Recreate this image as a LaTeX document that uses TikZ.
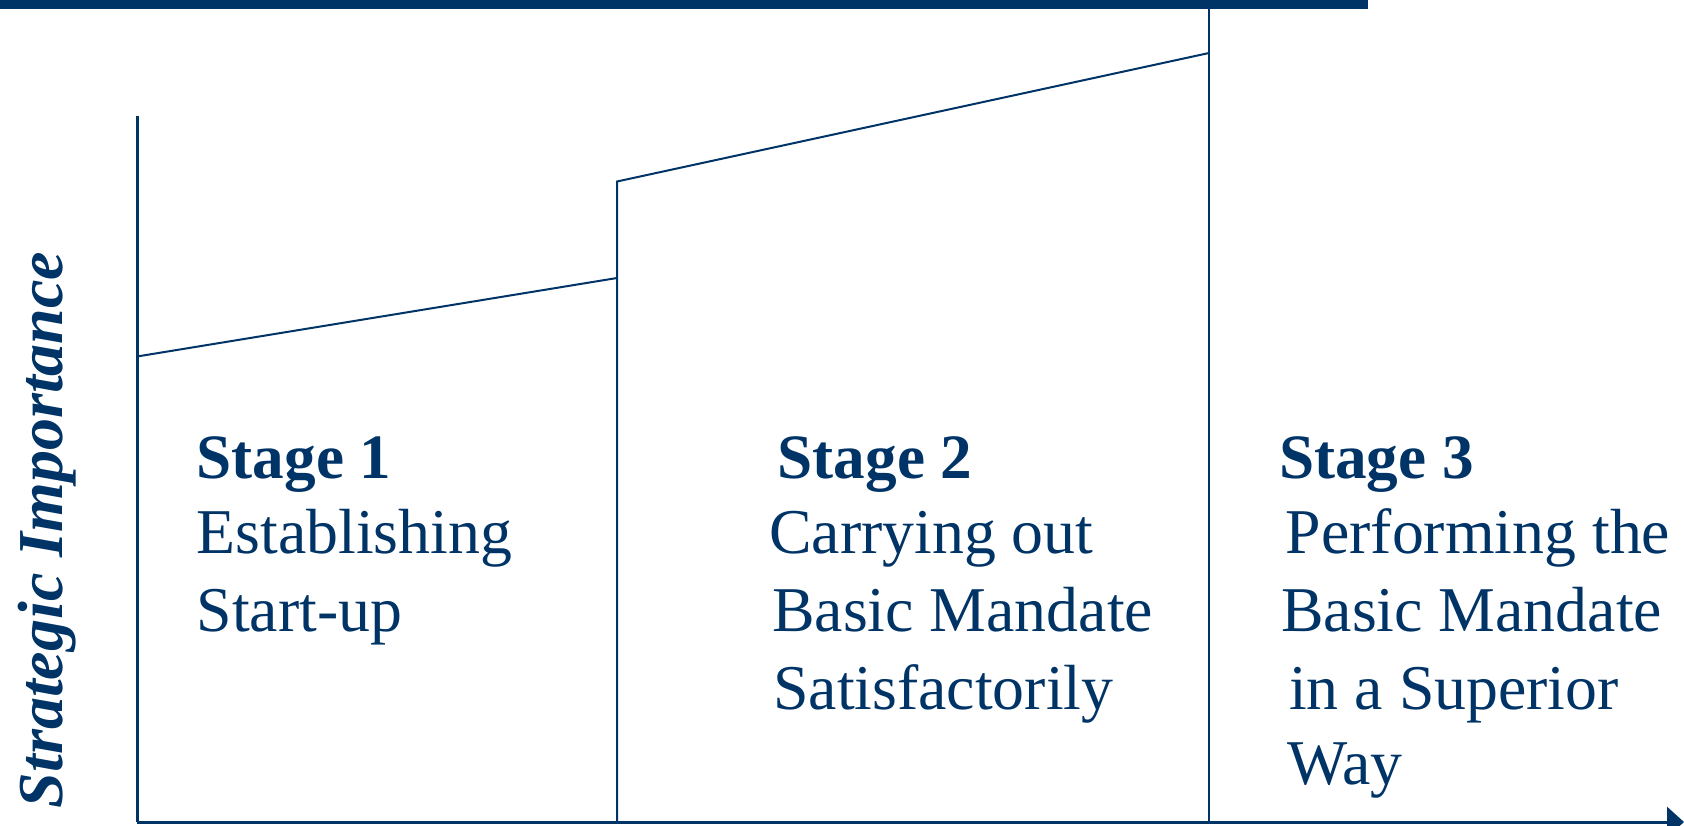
\documentclass[tikz,border=0pt]{standalone}
\usepackage{fontspec}
\setmainfont{Liberation Serif}
\usetikzlibrary{arrows.meta}
\definecolor{navy}{RGB}{0,51,102}
\begin{document}
\begin{tikzpicture}[x=1pt,y=-1pt,
  thinline/.style={draw=navy, line width=2pt},
  axisline/.style={draw=navy, line width=3pt},
  txt/.style={anchor=base west, inner sep=0pt, text=navy, font=\fontsize{63.8}{64}\selectfont},
  ttl/.style={txt, font=\fontsize{63.2}{64}\selectfont\bfseries}]
\useasboundingbox (0,0) rectangle (1684,825);
\fill[navy] (0,0) rectangle (1368,9);
% coordinates
\coordinate (o) at (137,822);
\coordinate (ytop) at (137,116);
\coordinate (xend) at (1684,822);
\coordinate (a1) at (137,356.5);
\coordinate (a2) at (617,278);
\coordinate (b0) at (617,822);
\coordinate (b1) at (617,181.5);
\coordinate (b2) at (1209,53);
\coordinate (c0) at (1209,822);
\coordinate (c1) at (1209,8);
% axes
\draw[axisline] (ytop) -- (o);
\draw[axisline, -{Triangle[length=17pt,width=30pt]}] (o) -- (xend);
% stage boundaries
\draw[thinline] (a1) -- (a2);
\draw[thinline] (b0) -- (b1) -- (b2);
\draw[thinline] (c0) -- (c1);
% texts
\node[ttl] (s1) at (196.5,478) {Stage 1};
\node[txt] (s1a) at (196.5,553) {Establishing};
\node[txt] (s1b) at (196.5,631.5) {Start-up};
\node[ttl] (s2) at (777.5,478) {Stage 2};
\node[txt] (s2a) at (769,553) {Carrying out};
\node[txt] (s2b) at (772,631.5) {Basic Mandate};
\node[txt] (s2c) at (773,709) {Satisfactorily};
\node[ttl] (s3) at (1279,478) {Stage 3};
\node[txt] (s3a) at (1285.5,553) {Performing the};
\node[txt] (s3b) at (1281,631.5) {Basic Mandate};
\node[txt] (s3c) at (1289,709) {in a Superior};
\node[txt] (s3d) at (1287,784) {Way};
% y label
\node[anchor=base, inner sep=0pt, text=navy, rotate=90,
  font=\fontsize{64}{64}\selectfont\bfseries\itshape] (ylab) at (62,530) {Strategic Importance};
\end{tikzpicture}
\end{document}
